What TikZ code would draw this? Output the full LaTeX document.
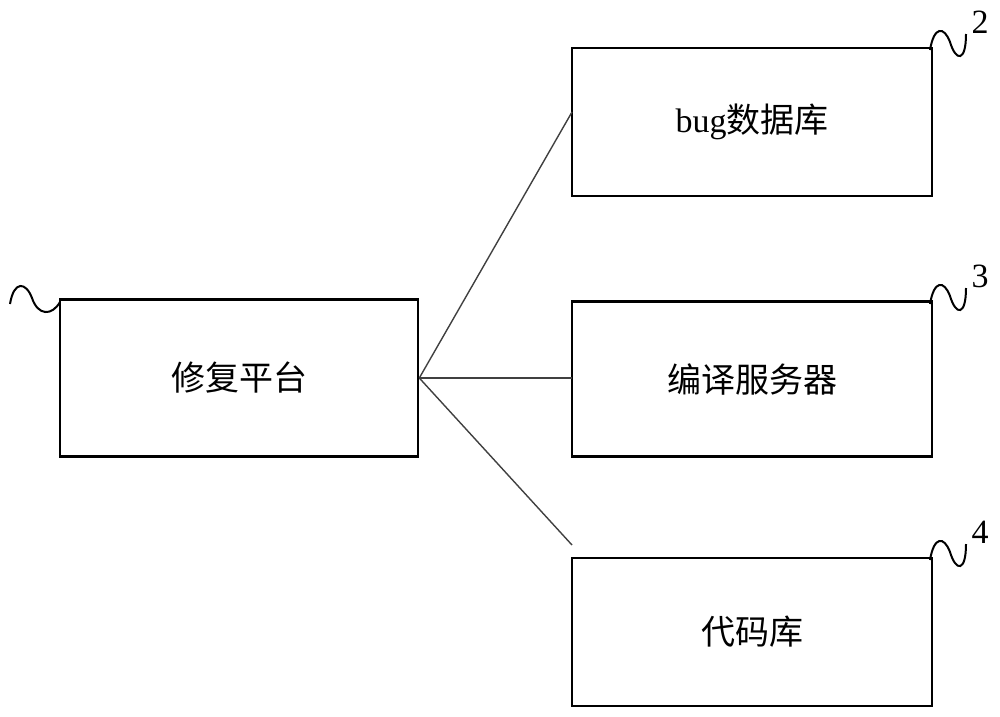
\documentclass[tikz,border=0pt]{standalone}
\usepackage{fontspec}
\setmainfont{Liberation Serif}
\newfontfamily\cjk{Noto Sans CJK SC}
\begin{document}
\begin{tikzpicture}[x=1pt,y=-1pt,
  box/.style={draw,line width=2.6pt,minimum width=360pt,minimum height=150pt,inner sep=0pt,font=\fontsize{34}{40}\selectfont},
  conn/.style={draw=black!75,line width=1.4pt},
  sq/.style={line width=2pt}]
\useasboundingbox (0,0) rectangle (1000,716);
\node[box,minimum width=358pt,minimum height=157pt] (p) at (239,378) {\cjk 修复平台};
\node[box,minimum height=148pt] (b) at (752,122) {bug\cjk 数据库};
\node[box,minimum height=155pt] (c) at (752,379) {\cjk 编译服务器};
\node[box,minimum height=148pt] (d) at (752,632) {\cjk 代码库};
\coordinate (o) at (p.east);
\coordinate (b1) at (572,112);
\coordinate (c1) at (572,378);
\coordinate (d1) at (572,545);
\draw[conn] (o) -- (b1);
\draw[conn] (o) -- (c1);
\draw[conn] (o) -- (d1);
\foreach \n/\y/\t in {b/48/2,c/302/3,d/558/4}{
  \draw[sq] (930,\y+2) .. controls (934,\y-22) and (944,\y-22) .. (950,\y-6)
     .. controls (956,\y+14) and (966,\y+14) .. (966,\y-14);
  \node[font=\fontsize{34}{38}\selectfont] (l\n) at (980,\y-26) {\t};
}
\draw[sq] (10,304) .. controls (14,280) and (26,282) .. (32,298)
  .. controls (38,316) and (52,316) .. (60,302);
\end{tikzpicture}
\end{document}
